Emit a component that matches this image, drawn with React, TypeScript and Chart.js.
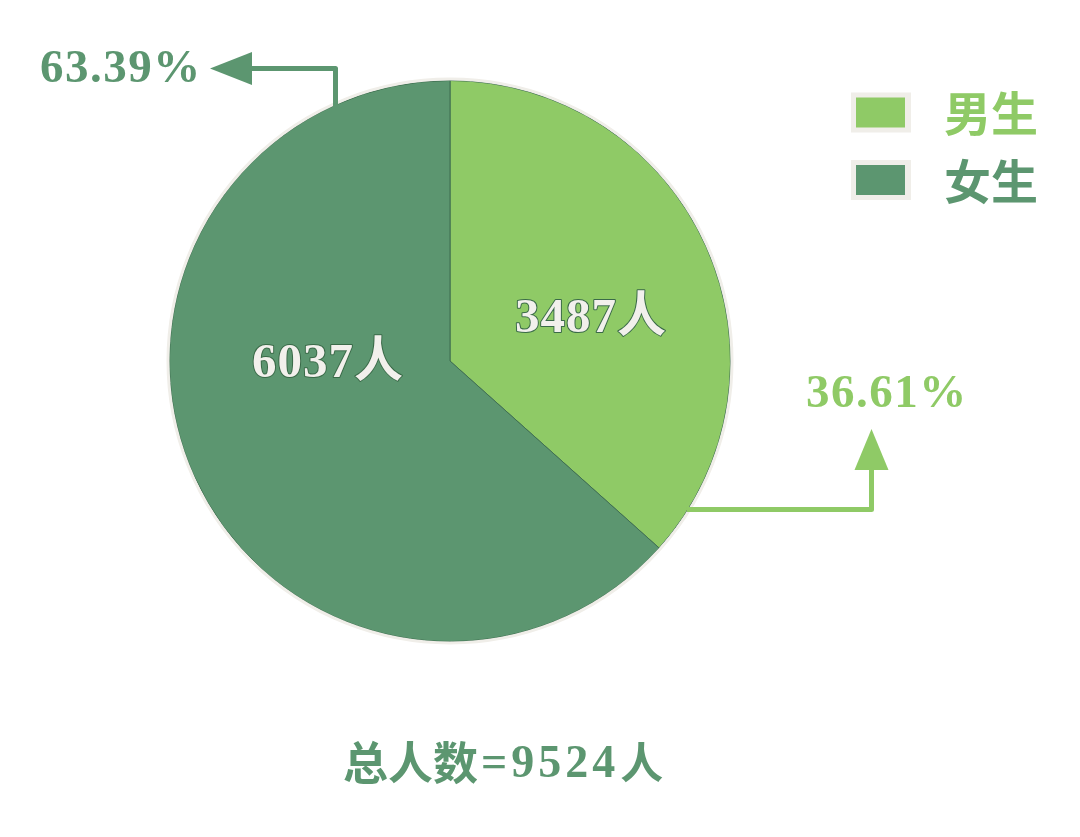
import { useEffect, useRef } from 'react';
import { Chart, registerables, Plugin } from 'chart.js';

Chart.register(...registerables);

const labels = ['男生', '女生'];
const counts = [3487, 6037];
const percents = ['36.61%', '63.39%'];
const total = 9524;

const LIGHT = '#8fca66';
const DARK = '#5c9670';
const RING = '#f0eee9';
const SERIF = '"Liberation Serif", "Times New Roman", "Noto Sans CJK SC", serif';
const SANS = '"Noto Sans CJK SC", "Noto Sans", sans-serif';

function arrowHead(ctx: CanvasRenderingContext2D, pts: number[][], color: string) {
  ctx.beginPath();
  ctx.moveTo(pts[0][0], pts[0][1]);
  pts.slice(1).forEach(p => ctx.lineTo(p[0], p[1]));
  ctx.closePath();
  ctx.fillStyle = color;
  ctx.fill();
}

const decorations: Plugin<'pie'> = {
  id: 'decorations',
  afterDatasetsDraw(chart) {
    const ctx = chart.ctx;
    const arc: any = chart.getDatasetMeta(0).data[0];
    if (!arc) return;
    const { x: cx, y: cy, outerRadius: r } = arc.getProps(['x', 'y', 'outerRadius'], true);
    ctx.save();

    // outer light ring
    ctx.beginPath();
    ctx.arc(cx, cy, r + 1.5, 0, Math.PI * 2);
    ctx.strokeStyle = RING;
    ctx.lineWidth = 3;
    ctx.stroke();

    // labels inside slices
    ctx.font = `bold 49px ${SERIF}`;
    (ctx as any).letterSpacing = '1px';
    ctx.textAlign = 'center';
    ctx.textBaseline = 'middle';
    ctx.lineJoin = 'round';
    const inside = [
      [cx + 141, cy - 42],
      [cx - 122, cy + 3],
    ];
    counts.forEach((c, i) => {
      const t = `${c}人`;
      ctx.lineWidth = 2;
      ctx.strokeStyle = '#3a6a48';
      ctx.strokeText(t, inside[i][0], inside[i][1]);
      ctx.fillStyle = '#f2f0ec';
      ctx.fillText(t, inside[i][0], inside[i][1]);
    });
    (ctx as any).letterSpacing = '0px';

    // dark arrow (女生)
    const dx = cx - 114.5;
    const edgeTop = cy - Math.sqrt(r * r - 114.5 * 114.5) + 2;
    ctx.strokeStyle = DARK;
    ctx.lineWidth = 5;
    ctx.lineCap = 'butt';
    ctx.beginPath();
    ctx.moveTo(dx, edgeTop);
    ctx.lineTo(dx, 68.5);
    ctx.lineTo(248, 68.5);
    ctx.stroke();
    arrowHead(ctx, [[210, 68.5], [252, 52], [252, 85]], DARK);

    // light arrow (男生)
    const ly = 509.5;
    const edgeRight = cx + Math.sqrt(r * r - (ly - cy) * (ly - cy)) - 1;
    ctx.strokeStyle = LIGHT;
    ctx.beginPath();
    ctx.moveTo(edgeRight, ly);
    ctx.lineTo(871.5, ly);
    ctx.lineTo(871.5, 466);
    ctx.stroke();
    arrowHead(ctx, [[871.5, 429], [854.5, 470], [888.5, 470]], LIGHT);

    // percentages
    ctx.font = `bold 47px ${SERIF}`;
    (ctx as any).letterSpacing = '1.5px';
    ctx.textBaseline = 'alphabetic';
    ctx.textAlign = 'left';
    ctx.fillStyle = DARK;
    ctx.fillText(percents[1], 40, 82);
    ctx.fillStyle = LIGHT;
    ctx.fillText(percents[0], 806, 407);
    (ctx as any).letterSpacing = '0px';

    // legend
    const legendColors = [LIGHT, DARK];
    const rows = [112.5, 180];
    labels.forEach((lab, i) => {
      const y = rows[i];
      ctx.fillStyle = RING;
      ctx.fillRect(851, y - 20, 60, 40);
      ctx.fillStyle = legendColors[i];
      ctx.fillRect(856, y - 15, 49, 30);
      ctx.font = `bold 47px ${SANS}`;
      ctx.textBaseline = 'middle';
      ctx.textAlign = 'left';
      ctx.fillText(lab, 944, y + 1);
    });

    // total
    ctx.fillStyle = DARK;
    ctx.textBaseline = 'middle';
    ctx.textAlign = 'left';
    let x = 343;
    const ty = 763;
    ctx.font = `bold 45px ${SANS}`;
    ctx.fillText('总人数', x, ty);
    x += ctx.measureText('总人数').width + 3;
    ctx.font = `bold 46px ${SERIF}`;
    (ctx as any).letterSpacing = '4px';
    const num = `=${total}`;
    ctx.fillText(num, x, ty + 2);
    x += ctx.measureText(num).width + 1;
    (ctx as any).letterSpacing = '0px';
    ctx.font = `bold 43px ${SANS}`;
    ctx.fillText('人', x, ty);

    ctx.restore();
  },
};

export default function App() {
  const canvasRef = useRef<HTMLCanvasElement>(null);

  useEffect(() => {
    if (!canvasRef.current) return;
    const chart = new Chart(canvasRef.current, {
      type: 'pie',
      data: {
        labels,
        datasets: [
          {
            data: counts,
            backgroundColor: [LIGHT, DARK],
            borderColor: '#3f6f50',
            borderWidth: 1,
          },
        ],
      },
      options: {
        animation: false,
        responsive: true,
        maintainAspectRatio: false,
        layout: { padding: { left: 169, right: 349, top: 80, bottom: 195 } },
        plugins: {
          legend: { display: false },
          tooltip: { enabled: false },
        },
      },
      plugins: [decorations],
    });
    return () => chart.destroy();
  }, []);

  return (
    <div style={{ position: 'absolute', left: 0, top: 0, width: 1080, height: 837, background: '#fff' }}>
      <canvas ref={canvasRef} />
    </div>
  );
}
